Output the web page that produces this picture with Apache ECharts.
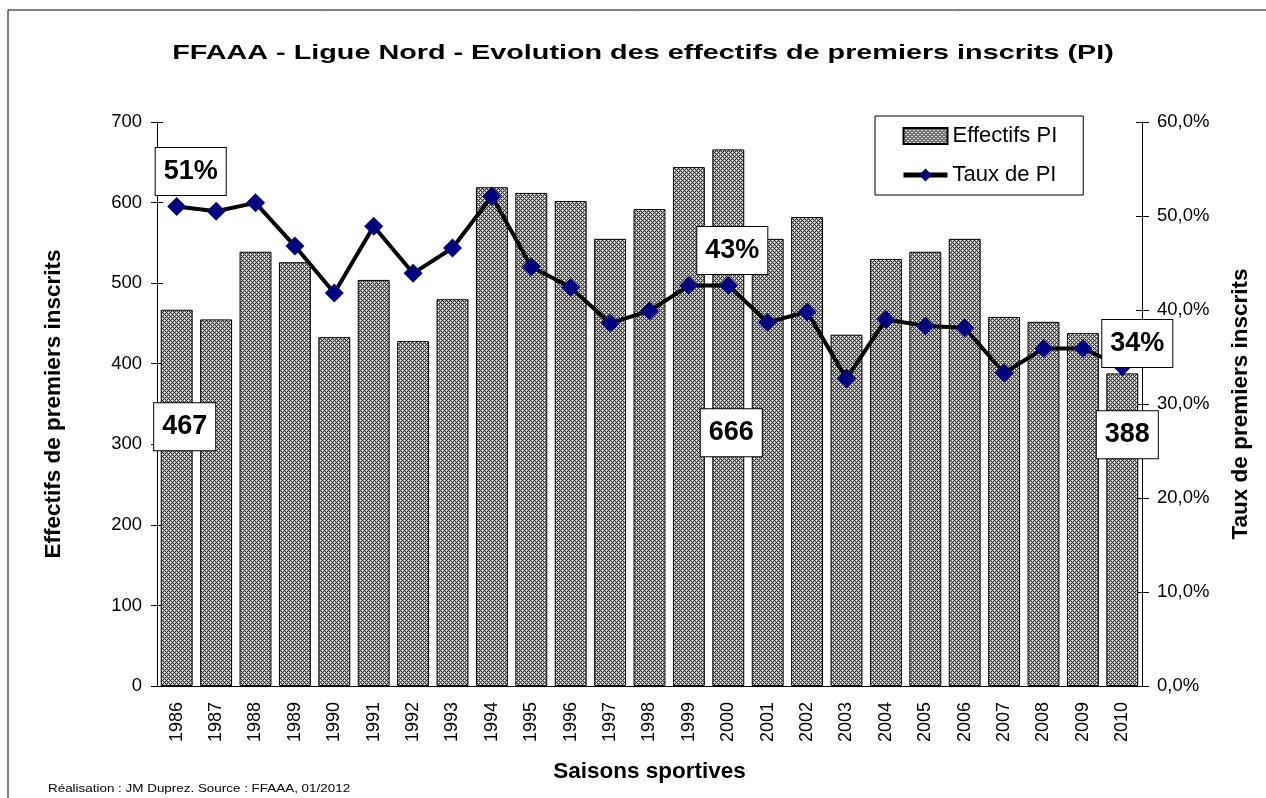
<!DOCTYPE html>
<html>
<head>
<meta charset="utf-8">
<script src="https://cdn.jsdelivr.net/npm/echarts@6/dist/echarts.min.js"></script>
<style>
  html, body { margin: 0; padding: 0; background: #fff; }
  #chart { width: 1266px; height: 798px; }
</style>
</head>
<body>
<div id="chart"></div>
<script>
  // saisons
  const saisons = ['1986', '1987', '1988', '1989', '1990', '1991', '1992', '1993', '1994', '1995',
    '1996', '1997', '1998', '1999', '2000', '2001', '2002', '2003', '2004', '2005',
    '2006', '2007', '2008', '2009', '2010']
  // effectifs de premiers inscrits
  const effectifsPI = [467, 455, 539, 526, 433, 504, 428, 480, 619, 612,
    602, 555, 592, 644, 666, 555, 582, 436, 530, 539,
    555, 458, 452, 438, 388]
  // taux de PI (%)
  const tauxPI = [51.0, 50.5, 51.4, 46.8, 41.8, 48.9, 43.9, 46.6, 52.1, 44.6,
    42.4, 38.6, 39.9, 42.6, 42.6, 38.7, 39.8, 32.7, 39.0, 38.3,
    38.1, 33.3, 35.9, 35.9, 34.0]
  // étiquettes encadrées : index -> texte
  const barLabels = { 0: '467', 14: '666', 24: '388' }
  const lineLabels = { 0: '51%', 14: '43%', 24: '34%' }
  const barLabelOffsets = { 0: [8, -71], 14: [3, 15], 24: [5, -95] }
  const lineLabelOffsets = { 0: [14, -35], 14: [4, -35], 24: [15, -23] }

  // motif gris en treillis des barres
  const makePattern = () => {
    const c = document.createElement('canvas')
    c.width = 4
    c.height = 4
    const ctx = c.getContext('2d')
    const rows = [
      'WGDG',
      'GDGD',
      'DGWG',
      'GDGD'
    ]
    const cols = { W: '#ffffff', G: '#b4b4b4', D: '#2e2e2e' }
    rows.forEach((row, y) => {
      row.split('').forEach((k, x) => {
        ctx.fillStyle = cols[k]
        ctx.fillRect(x, y, 1, 1)
      })
    })
    return c
  }
  const pattern = { image: makePattern(), repeat: 'repeat' }

  const boxLabel = {
    show: true,
    position: 'inside',
    backgroundColor: '#fff',
    borderColor: '#000',
    borderWidth: 1,
    padding: [11, 8, 9, 8],
    fontFamily: 'Liberation Sans',
    fontSize: 27,
    fontWeight: 'bold',
    color: '#000'
  }

  const font = 'Liberation Sans'
  const black = { color: '#000' }
  const chart = echarts.init(document.getElementById('chart'))

  const option = {
    animation: false,
    textStyle: { fontFamily: font },
    graphic: [
      {
        type: 'rect',
        shape: { x: 8, y: 10, width: 1400, height: 1000 },
        style: { fill: 'none', stroke: '#000', lineWidth: 1 },
        silent: true
      },
      {
        type: 'text',
        x: 643,
        y: 53,
        scaleX: 1.37,
        style: {
          text: 'FFAAA - Ligue Nord - Evolution des effectifs de premiers inscrits (PI)',
          fontFamily: font,
          fontSize: 21,
          fontWeight: 'bold',
          fill: '#000',
          align: 'center',
          verticalAlign: 'middle'
        }
      },
      {
        type: 'text',
        x: 48,
        y: 789,
        scaleX: 1.22,
        style: {
          text: 'Réalisation : JM Duprez. Source : FFAAA, 01/2012',
          fontFamily: font,
          fontSize: 11,
          fill: '#000',
          align: 'left',
          verticalAlign: 'middle'
        }
      }
    ],
    legend: {
      left: 875,
      top: 116,
      orient: 'vertical',
      padding: [9, 26, 9, 26],
      itemWidth: 44,
      itemHeight: 16,
      itemGap: 17,
      borderColor: '#000',
      borderWidth: 1,
      backgroundColor: '#fff',
      lineStyle: { width: 5, color: '#000' },
      textStyle: { fontFamily: font, fontSize: 22, color: '#000' },
      data: [{ name: 'Effectifs PI', icon: 'rect' }, { name: 'Taux de PI' }]
    },
    grid: { left: 157, right: 124, top: 122, bottom: 112 },
    xAxis: [
      {
        type: 'category',
        data: saisons,
        name: 'Saisons sportives',
        nameLocation: 'middle',
        nameGap: 74,
        nameTextStyle: { fontSize: 22.5, fontWeight: 'bold', color: '#000' },
        axisLine: { lineStyle: black },
        axisTick: { length: 6, lineStyle: black },
        axisLabel: { rotate: 90, fontSize: 18, color: '#000', margin: 16 }
      },
      {
        // ticks intérieurs (graduations croisées)
        type: 'category',
        data: saisons,
        position: 'bottom',
        axisLine: { show: false },
        axisTick: { inside: true, length: 3, lineStyle: black },
        axisLabel: { show: false }
      }
    ],
    yAxis: [
      {
        type: 'value',
        min: 0,
        max: 700,
        interval: 100,
        name: 'Effectifs de premiers inscrits',
        nameLocation: 'middle',
        nameRotate: 90,
        nameGap: 92,
        nameTextStyle: { fontSize: 22.5, fontWeight: 'bold', color: '#000' },
        axisLine: { show: true, lineStyle: black },
        axisTick: { show: true, length: 6, lineStyle: black },
        axisLabel: { fontSize: 18.5, color: '#000', margin: 15 },
        splitLine: { show: false }
      },
      {
        type: 'value',
        min: 0,
        max: 60,
        interval: 10,
        position: 'right',
        name: 'Taux de premiers inscrits',
        nameLocation: 'middle',
        nameRotate: 90,
        nameGap: 87,
        nameTextStyle: { fontSize: 22.5, fontWeight: 'bold', color: '#000' },
        axisLine: { show: true, lineStyle: black },
        axisTick: { show: true, length: 7, lineStyle: black },
        axisLabel: {
          fontSize: 18.5,
          color: '#000',
          margin: 15,
          formatter: (v) => v.toFixed(1).replace('.', ',') + '%'
        },
        splitLine: { show: false }
      },
      {
        // ticks intérieurs gauche
        type: 'value',
        min: 0,
        max: 700,
        interval: 100,
        position: 'left',
        axisLine: { show: false },
        axisTick: { show: true, inside: true, length: 6, lineStyle: black },
        axisLabel: { show: false },
        splitLine: { show: false }
      },
      {
        // ticks intérieurs droite
        type: 'value',
        min: 0,
        max: 60,
        interval: 10,
        position: 'right',
        axisLine: { show: false },
        axisTick: { show: true, inside: true, length: 6, lineStyle: black },
        axisLabel: { show: false },
        splitLine: { show: false }
      }
    ],
    series: [
      {
        name: 'Effectifs PI',
        type: 'bar',
        barCategoryGap: '19%',
        itemStyle: { color: pattern, borderColor: '#000', borderWidth: 1 },
        data: effectifsPI.map((v, i) => {
          if (barLabels[i] === undefined) return v
          return {
            value: v,
            label: Object.assign({}, boxLabel, {
              formatter: barLabels[i],
              offset: barLabelOffsets[i]
            })
          }
        }),
        z: 2
      },
      {
        name: 'Taux de PI',
        type: 'line',
        yAxisIndex: 1,
        symbol: 'diamond',
        symbolSize: 19,
        lineStyle: { color: '#000', width: 4 },
        itemStyle: { color: '#000080' },
        data: tauxPI.map((v, i) => {
          if (lineLabels[i] === undefined) return v
          return {
            value: v,
            label: Object.assign({}, boxLabel, {
              formatter: lineLabels[i],
              offset: lineLabelOffsets[i]
            })
          }
        }),
        z: 3
      }
    ]
  }

  chart.setOption(option)
</script>
</body>
</html>
